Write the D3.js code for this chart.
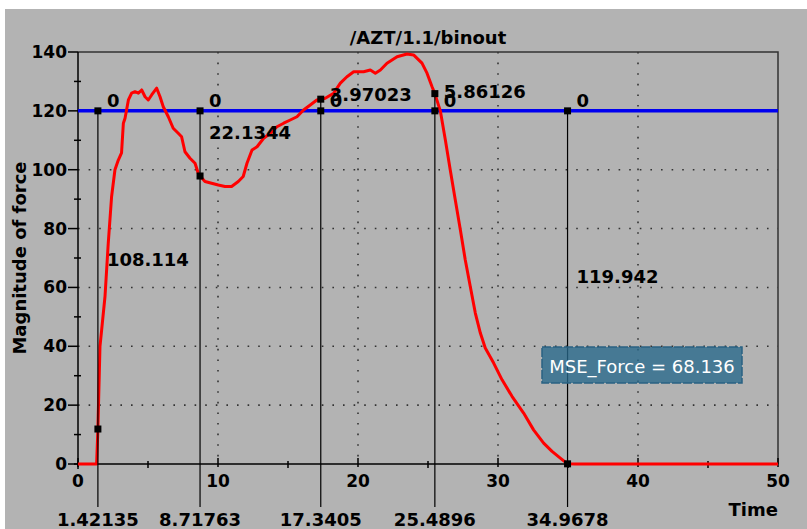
<!DOCTYPE html>
<html>
<head>
<meta charset="utf-8">
<script src="https://cdn.jsdelivr.net/npm/d3@7"></script>
<style>
  body { margin: 0; background: #fff; }
  svg { display: block; font-family: "DejaVu Sans", sans-serif; }
</style>
</head>
<body>
<script>
// curve (time, force)
var curveTime = [0, 1.33, 1.42135, 1.57, 1.69, 1.93, 2.16, 2.4, 2.64, 2.88, 3.11, 3.24, 3.36, 3.6, 3.83, 4.07, 4.31, 4.55, 4.79, 5.02, 5.26, 5.62, 5.86, 6.09, 6.45, 6.8, 7.16, 7.4, 7.64, 8.0, 8.36, 8.59, 8.71763, 9.07, 9.54, 10.02, 10.5, 10.97, 11.45, 11.8, 12.07, 12.43, 12.79, 13.26, 13.74, 14.21, 14.69, 15.16, 15.64, 16.11, 16.59, 17.06, 17.3405, 17.66, 18.26, 18.74, 19.21, 19.69, 20.4, 20.88, 21.24, 21.6, 22.07, 22.79, 23.5, 23.97, 24.57, 24.93, 25.29, 25.4896, 25.88, 26.24, 26.59, 26.95, 27.31, 27.66, 28.02, 28.38, 28.74, 29.09, 29.69, 30.29, 31.0, 31.83, 32.54, 33.26, 33.86, 34.45, 34.9678, 35.5, 50];
var curveForce = [0, 0, 11.886, 40, 45.6, 57, 75, 90.9, 100, 103.3, 105.7, 115.8, 117.5, 123.7, 126, 126.5, 126, 127.1, 124.8, 123.7, 125.4, 127.7, 124.8, 121.4, 118, 114.1, 112.4, 111.2, 106.1, 103.9, 102.2, 98.8, 97.8656, 96, 95.4, 94.8, 94.3, 94.3, 96, 97.7, 102.2, 106.7, 107.8, 110.7, 112.4, 114.6, 115.8, 116.9, 118, 120.3, 122, 123.7, 123.97023, 124.3, 126, 129.4, 131.6, 133.3, 133.3, 133.9, 132.8, 133.9, 136.2, 138.4, 139.3, 139, 136.2, 132.8, 128.2, 125.86126, 120, 110.1, 99.9, 89.7, 79.6, 69.4, 60.3, 51.3, 44.5, 39.4, 34.3, 28.6, 23, 17.3, 11.6, 7.1, 4.3, 2, 0.058, 0, 0];

// target (blue) line
var targetForce = 120;

// measurement cursors
var markerTimes = [1.42135, 8.71763, 17.3405, 25.4896, 34.9678];
var markerForces = [11.886, 97.8656, 123.97023, 125.86126, 0.058];
var markerDiffs = ["108.114", "22.1344", "3.97023", "5.86126", "119.942"];
var targetDiffs = ["0", "0", "0", "0", "0"];

var xTicks = [0, 10, 20, 30, 40, 50];
var xMinorTicks = [5, 15, 25, 35, 45];
var yTicks = [0, 20, 40, 60, 80, 100, 120, 140];
var yMinorTicks = [10, 30, 50, 70, 90, 110, 130];

var msgText = "MSE_Force = 68.136";

var W = 807, H = 529;
var margin = {top: 52, right: 29, bottom: 65, left: 78};

var svg = d3.select("body").append("svg")
    .attr("width", W)
    .attr("height", H);

// grey panel
svg.append("rect")
    .attr("x", 5).attr("y", 9)
    .attr("width", W - 5).attr("height", H - 9)
    .attr("fill", "#b3b3b3");

var x = d3.scaleLinear().domain([0, 50]).range([margin.left, W - margin.right]);
var y = d3.scaleLinear().domain([0, 140]).range([H - margin.bottom, margin.top]);

// dotted grid
var gridX = [10, 20, 30, 40];
var gridY = [20, 40, 60, 80, 100, 120];
svg.selectAll("line.gx").data(gridX).enter().append("line")
    .attr("class", "gx")
    .attr("x1", function(d) { return x(d); }).attr("x2", function(d) { return x(d); })
    .attr("y1", y(140)).attr("y2", y(0))
    .attr("stroke", "#333").attr("stroke-width", 1.6)
    .attr("stroke-dasharray", "1.6 9");
svg.selectAll("line.gy").data(gridY).enter().append("line")
    .attr("class", "gy")
    .attr("x1", x(0)).attr("x2", x(50))
    .attr("y1", function(d) { return y(d); }).attr("y2", function(d) { return y(d); })
    .attr("stroke", "#333").attr("stroke-width", 1.6)
    .attr("stroke-dasharray", "1.6 9");

// frame top + right
svg.append("path")
    .attr("d", "M" + x(0) + "," + y(140) + "H" + x(50) + "V" + y(0))
    .attr("fill", "none").attr("stroke", "#333").attr("stroke-width", 1.5);

// axes
svg.append("line")
    .attr("x1", x(0)).attr("x2", x(0)).attr("y1", y(140)).attr("y2", y(0) + 5)
    .attr("stroke", "#000").attr("stroke-width", 1.5);
svg.append("line")
    .attr("x1", x(0) - 4).attr("x2", x(50)).attr("y1", y(0)).attr("y2", y(0))
    .attr("stroke", "#000").attr("stroke-width", 1.5);

svg.selectAll("line.ytick").data(yTicks).enter().append("line")
    .attr("x1", x(0) - 10).attr("x2", x(0))
    .attr("y1", function(d) { return y(d); }).attr("y2", function(d) { return y(d); })
    .attr("stroke", "#000").attr("stroke-width", 1.5);
svg.selectAll("line.ymin").data(yMinorTicks).enter().append("line")
    .attr("x1", x(0) - 4).attr("x2", x(0) + 3)
    .attr("y1", function(d) { return y(d); }).attr("y2", function(d) { return y(d); })
    .attr("stroke", "#000").attr("stroke-width", 1.5);
svg.selectAll("line.xtick").data(xTicks).enter().append("line")
    .attr("x1", function(d) { return x(d); }).attr("x2", function(d) { return x(d); })
    .attr("y1", y(0) - 6).attr("y2", y(0) + 3)
    .attr("stroke", "#000").attr("stroke-width", 1.5);
svg.selectAll("line.xmin").data(xMinorTicks).enter().append("line")
    .attr("x1", function(d) { return x(d); }).attr("x2", function(d) { return x(d); })
    .attr("y1", y(0) - 3).attr("y2", y(0) + 4)
    .attr("stroke", "#000").attr("stroke-width", 1.5);

// tick labels
svg.selectAll("text.ylab").data(yTicks).enter().append("text")
    .attr("x", x(0) - 11)
    .attr("y", function(d) { return y(d) + 6; })
    .attr("text-anchor", "end")
    .attr("font-size", 17).attr("font-weight", "bold")
    .text(function(d) { return d; });
svg.selectAll("text.xlab").data(xTicks).enter().append("text")
    .attr("x", function(d) { return x(d); })
    .attr("y", y(0) + 23)
    .attr("text-anchor", "middle")
    .attr("font-size", 17).attr("font-weight", "bold")
    .text(function(d) { return d; });

// titles
svg.append("text")
    .attr("x", (x(0) + x(50)) / 2).attr("y", 44)
    .attr("text-anchor", "middle")
    .attr("font-size", 18).attr("font-weight", "bold")
    .text("/AZT/1.1/binout");
svg.append("text")
    .attr("transform", "translate(26," + ((y(0) + y(140)) / 2) + ") rotate(-90)")
    .attr("text-anchor", "middle")
    .attr("font-size", 18).attr("font-weight", "bold")
    .text("Magnitude of force");
svg.append("text")
    .attr("x", x(50)).attr("y", 516)
    .attr("text-anchor", "end")
    .attr("font-size", 18).attr("font-weight", "bold")
    .text("Time");

// target line
svg.append("line")
    .attr("x1", x(0)).attr("x2", x(50))
    .attr("y1", y(targetForce)).attr("y2", y(targetForce))
    .attr("stroke", "#0000f0").attr("stroke-width", 3.5);

// force curve
var line = d3.line()
    .x(function(d, i) { return x(curveTime[i]); })
    .y(function(d) { return y(d); });
svg.append("path")
    .datum(curveForce)
    .attr("d", line)
    .attr("fill", "none")
    .attr("stroke", "#ff0000").attr("stroke-width", 3)
    .attr("stroke-linejoin", "round");

// cursors
var cur = svg.selectAll("g.cursor").data(markerTimes).enter().append("g")
    .attr("class", "cursor");
cur.append("line")
    .attr("x1", function(d) { return x(d); }).attr("x2", function(d) { return x(d); })
    .attr("y1", function(d, i) { return y(Math.max(markerForces[i], targetForce)); })
    .attr("y2", 507)
    .attr("stroke", "#000").attr("stroke-width", 1.2);
cur.append("rect")
    .attr("x", function(d) { return x(d) - 3.5; })
    .attr("y", function(d) { return y(targetForce) - 3.5; })
    .attr("width", 7).attr("height", 7).attr("fill", "#000");
cur.append("rect")
    .attr("x", function(d) { return x(d) - 3.5; })
    .attr("y", function(d, i) { return y(markerForces[i]) - 3.5; })
    .attr("width", 7).attr("height", 7).attr("fill", "#000");
cur.append("text")
    .attr("x", function(d) { return x(d) + 9; })
    .attr("y", function(d) { return y(targetForce) - 4; })
    .attr("font-size", 18).attr("font-weight", "bold")
    .text(function(d, i) { return targetDiffs[i]; });
cur.append("text")
    .attr("x", function(d) { return x(d) + 9; })
    .attr("y", function(d, i) { return y((markerForces[i] + targetForce) / 2) - 4; })
    .attr("font-size", 18).attr("font-weight", "bold")
    .text(function(d, i) { return markerDiffs[i]; });
cur.append("text")
    .attr("x", function(d) { return x(d); })
    .attr("y", 526)
    .attr("text-anchor", "middle")
    .attr("font-size", 18).attr("font-weight", "bold")
    .text(function(d) { return d; });

// MSE note
var note = svg.append("g").attr("transform", "translate(542,347)");
note.append("rect")
    .attr("width", 200).attr("height", 36)
    .attr("fill", "rgba(40,105,140,0.78)")
    .attr("stroke", "#2a6282").attr("stroke-width", 1.5)
    .attr("stroke-dasharray", "9 2");
note.append("text")
    .attr("x", 100).attr("y", 26)
    .attr("text-anchor", "middle")
    .attr("font-size", 18).attr("fill", "#fff")
    .text(msgText);
</script>
</body>
</html>
